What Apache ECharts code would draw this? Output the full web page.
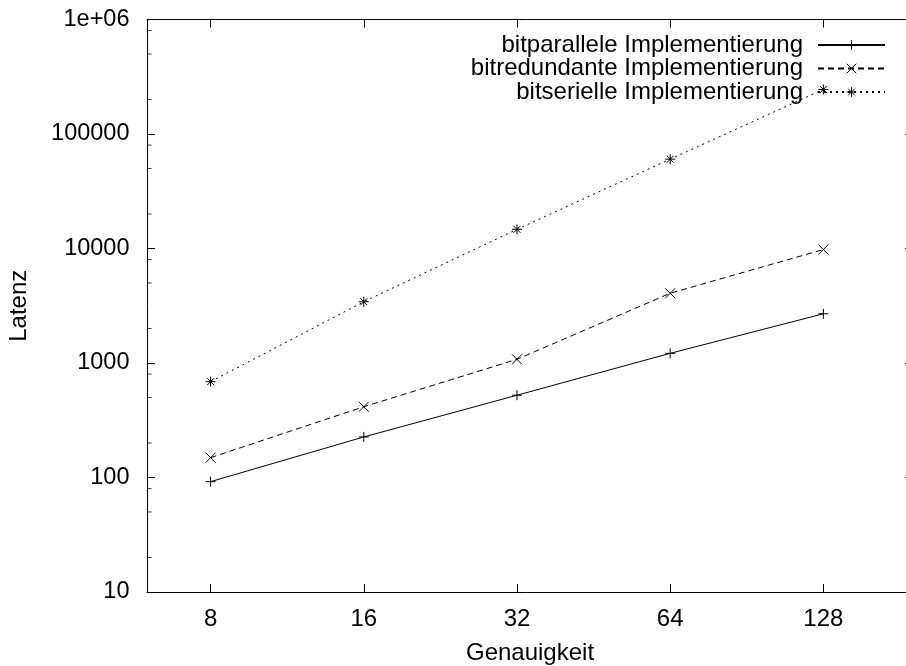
<!DOCTYPE html>
<html>
<head>
<meta charset="utf-8">
<script src="https://cdn.jsdelivr.net/npm/echarts@6/dist/echarts.min.js"></script>
<style>html,body{margin:0;padding:0;background:#fff;}#c{width:906px;height:666px;}</style>
</head>
<body>
<div id="c"></div>
<script>
var xValues = [8, 16, 32, 64, 128];
var parallelLatency = [92, 226, 523, 1215, 2690];
var redundantLatency = [149, 415, 1077, 4065, 9800];
var serialLatency = [687, 3430, 14700, 60300, 245000];
var seriesNames = ['bitparallele Implementierung', 'bitredundante Implementierung', 'bitserielle Implementierung'];
var yTickLabels = ['10', '100', '1000', '10000', '100000', '1e+06'];
var xRange = [6, 192];
var yRange = [10, 1000000];
var minorTickValues = [20, 50, 80, 200, 500, 800, 2000, 5000, 8000, 20000, 50000, 80000, 200000, 500000, 800000];

var FONT = "'Liberation Sans', Arial, Helvetica, sans-serif";
var FS = 24;

function pairs(vals) {
  return xValues.map(function (x, i) { return [x, vals[i]]; });
}

var plusSym = 'path://M0,5L10,5M5,0L5,10';
var crossSym = 'path://M0,0L10,10M10,0L0,10';
var starSym = 'path://M0,5L10,5M5,0L5,10M1.5,1.5L8.5,8.5M8.5,1.5L1.5,8.5';

function lineSeries(name, vals, sym, dash) {
  return {
    name: name,
    type: 'line',
    xAxisIndex: 0,
    yAxisIndex: 0,
    data: pairs(vals),
    symbol: sym,
    symbolSize: 10,
    showSymbol: true,
    color: '#000',
    itemStyle: { color: '#000', borderColor: '#000', borderWidth: 1 },
    lineStyle: { color: '#000', width: 1, type: dash },
    emphasis: { disabled: true },
    animation: false,
    clip: false
  };
}

var chart = echarts.init(document.getElementById('c'), null, { renderer: 'canvas' });

var axisLineStyle = { color: '#000', width: 1 };

chart.setOption({
  backgroundColor: '#fff',
  animation: false,
  textStyle: { fontFamily: FONT, color: '#000' },
  grid: { left: 147, top: 19.5, width: 766, height: 572.5, outerBoundsMode: 'none', containLabel: false },
  legend: {
    data: seriesNames,
    orient: 'vertical',
    right: 15,
    top: 28,
    align: 'right',
    itemWidth: 67,
    itemHeight: 12,
    itemGap: -0.5,
    selectedMode: false,
    itemStyle: { borderWidth: 1 },
    textStyle: { fontFamily: FONT, fontSize: FS, color: '#000', lineHeight: 22, padding: [0, 10, 0, 0] }
  },
  xAxis: [{
    type: 'log',
    logBase: 2,
    min: xRange[0],
    max: xRange[1],
    position: 'bottom',
    name: 'Genauigkeit',
    nameLocation: 'middle',
    nameGap: 49,
    nameTextStyle: { fontFamily: FONT, fontSize: FS, color: '#000' },
    axisLine: { show: true, lineStyle: axisLineStyle },
    axisTick: { show: true, inside: true, length: 8, lineStyle: axisLineStyle },
    splitLine: { show: false },
    minorTick: { show: false },
    axisLabel: {
      fontFamily: FONT, fontSize: FS, color: '#000', margin: 15,
      showMinLabel: true, showMaxLabel: true,
      formatter: function (v) {
        for (var i = 0; i < xValues.length; i++) {
          if (Math.abs(v - xValues[i]) < 1e-6) return String(xValues[i]);
        }
        return '';
      }
    }
  }, {
    type: 'log',
    logBase: 2,
    min: xRange[0],
    max: xRange[1],
    position: 'top',
    axisLine: { show: true, lineStyle: axisLineStyle },
    axisTick: { show: true, inside: true, length: 8, lineStyle: axisLineStyle },
    axisLabel: { show: false },
    splitLine: { show: false }
  }],
  yAxis: [{
    type: 'log',
    logBase: 10,
    min: yRange[0],
    max: yRange[1],
    position: 'left',
    name: 'Latenz',
    nameLocation: 'middle',
    nameGap: 116,
    nameRotate: 90,
    nameTextStyle: { fontFamily: FONT, fontSize: FS, color: '#000' },
    axisLine: { show: true, lineStyle: axisLineStyle },
    axisTick: { show: true, inside: true, length: 8, lineStyle: axisLineStyle },
    splitLine: { show: false },
    axisLabel: {
      fontFamily: FONT, fontSize: 23.5, color: '#000', margin: 17.5,
      showMinLabel: true, showMaxLabel: true,
      formatter: function (v) {
        var idx = Math.round(Math.log10(v)) - 1;
        return yTickLabels[idx] !== undefined ? yTickLabels[idx] : '';
      }
    }
  }, {
    type: 'log',
    logBase: 10,
    min: yRange[0],
    max: yRange[1],
    position: 'right',
    axisLine: { show: true, lineStyle: axisLineStyle },
    axisTick: { show: true, inside: true, length: 8, lineStyle: axisLineStyle },
    axisLabel: { show: false },
    splitLine: { show: false }
  }],
  series: [
    lineSeries(seriesNames[0], parallelLatency, plusSym, 'solid'),
    lineSeries(seriesNames[1], redundantLatency, crossSym, [6, 4]),
    lineSeries(seriesNames[2], serialLatency, starSym, [2, 4]),
    {
      name: 'minorTicks',
      type: 'scatter',
      xAxisIndex: 0,
      yAxisIndex: 0,
      data: minorTickValues.map(function (v) { return [xRange[0], v]; }),
      symbol: 'rect',
      symbolSize: [4.5, 1],
      symbolOffset: [2.25, 0],
      itemStyle: { color: '#000' },
      silent: true,
      clip: false,
      animation: false
    }
  ]
});
</script>
</body>
</html>
